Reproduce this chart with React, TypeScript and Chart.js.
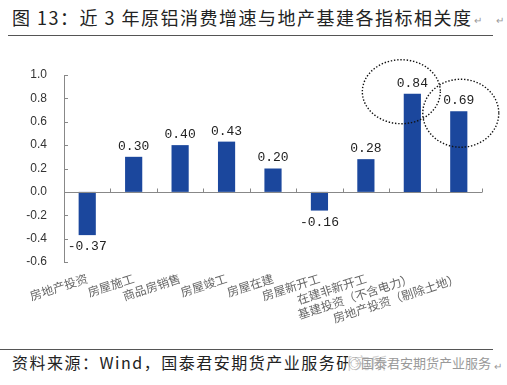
import React, { useEffect, useRef } from "react";
import { Chart, registerables } from "chart.js";

Chart.register(...registerables);

const categories = [
  "房地产投资",
  "房屋施工",
  "商品房销售",
  "房屋竣工",
  "房屋在建",
  "房屋新开工",
  "在建非新开工",
  "基建投资（不含电力）",
  "房地产投资（剔除土地）",
];
const correlations = [-0.37, 0.3, 0.4, 0.43, 0.2, -0.16, 0.28, 0.84, 0.69];
const yTicks = [-0.6, -0.4, -0.2, 0.0, 0.2, 0.4, 0.6, 0.8, 1.0];
const highlighted = [7, 8];

const BAR_COLOR = "#1B479D";

const overlayPlugin = {
  id: "overlay",
  afterDatasetsDraw(chart: any) {
    const { ctx, chartArea, scales } = chart;
    const y = scales.y;
    ctx.save();
    ctx.strokeStyle = "#888";
    ctx.lineWidth = 1;
    ctx.beginPath();
    ctx.moveTo(chartArea.left + 0.5, chartArea.top);
    ctx.lineTo(chartArea.left + 0.5, chartArea.bottom);
    ctx.stroke();
    yTicks.forEach((v) => {
      const py = Math.round(y.getPixelForValue(v)) + 0.5;
      ctx.beginPath();
      ctx.moveTo(chartArea.left, py);
      ctx.lineTo(chartArea.left + 4, py);
      ctx.stroke();
    });
    const zy = Math.round(y.getPixelForValue(0)) + 0.5;
    ctx.beginPath();
    ctx.moveTo(chartArea.left, zy);
    ctx.lineTo(chartArea.right, zy);
    ctx.stroke();
    const n = categories.length;
    const step = (chartArea.right - chartArea.left) / n;
    for (let i = 0; i <= n; i++) {
      const px = Math.round(chartArea.left + i * step) + 0.5;
      ctx.beginPath();
      ctx.moveTo(px, zy);
      ctx.lineTo(px, zy - 4);
      ctx.stroke();
    }
    const meta = chart.getDatasetMeta(0);
    ctx.fillStyle = "#222";
    ctx.font = "13px 'Liberation Mono', monospace";
    ctx.textAlign = "center";
    meta.data.forEach((bar: any, i: number) => {
      const v = correlations[i];
      const t = v.toFixed(2);
      if (v >= 0) {
        ctx.textBaseline = "bottom";
        ctx.fillText(t, bar.x, bar.y - 4);
      } else {
        ctx.textBaseline = "top";
        ctx.fillText(t, bar.x, bar.y + 5);
      }
    });
    ctx.strokeStyle = "#111";
    ctx.lineWidth = 1.4;
    ctx.setLineDash([1.4, 1.8]);
    const offs = [
      { dx: -11, dy: -2, rx: 39, ry: 32 },
      { dx: 2, dy: 2, rx: 38, ry: 34 },
    ];
    highlighted.forEach((idx, k) => {
      const bar: any = meta.data[idx];
      const o = offs[k];
      ctx.beginPath();
      ctx.ellipse(bar.x + o.dx, bar.y + o.dy, o.rx, o.ry, 0, 0, Math.PI * 2);
      ctx.stroke();
    });
    ctx.restore();
  },
};

function BarChart() {
  const ref = useRef<HTMLCanvasElement>(null);
  useEffect(() => {
    if (!ref.current) return;
    const chart = new Chart(ref.current, {
      type: "bar",
      data: {
        labels: categories,
        datasets: [
          {
            data: correlations,
            backgroundColor: BAR_COLOR,
            borderWidth: 0,
            barPercentage: 0.37,
            categoryPercentage: 1,
          },
        ],
      },
      options: {
        responsive: false,
        animation: false,
        layout: { padding: { top: 35, right: 25, left: 0, bottom: 0 } },
        plugins: { legend: { display: false }, tooltip: { enabled: false } },
        scales: {
          x: {
            grid: { display: false, drawTicks: false },
            border: { display: false },
            afterFit: (axis: any) => {
              axis.height = 83;
            },
            ticks: {
              autoSkip: false,
              minRotation: 18,
              maxRotation: 18,
              padding: 9,
              color: "#666",
              font: { family: "'Noto Sans CJK SC'", size: 12 },
            },
          },
          y: {
            min: -0.6,
            max: 1.0,
            grid: { display: false, drawTicks: false },
            border: { display: false },
            afterFit: (axis: any) => {
              axis.width = 64;
            },
            ticks: {
              stepSize: 0.2,
              padding: 17,
              color: "#333",
              font: { family: "'Liberation Sans', Arial", size: 12 },
              callback: (v: any) => Number(v).toFixed(1),
            },
          },
        },
      },
      plugins: [overlayPlugin],
    });
    return () => chart.destroy();
  }, []);
  return <canvas ref={ref} width={507} height={305} style={{ display: "block" }} />;
}

export default function App() {
  return (
    <div
      style={{
        position: "absolute",
        left: 0,
        top: 0,
        width: 507,
        height: 385,
        background: "#fff",
        overflow: "hidden",
        fontFamily: "'Noto Sans CJK SC', sans-serif",
      }}
    >
      <div
        style={{
          position: "absolute",
          left: 12,
          top: 5,
          fontSize: 18,
          letterSpacing: 1.5,
          color: "#222",
          whiteSpace: "nowrap",
          lineHeight: "24px",
        }}
      >
        图 13：近 3 年原铝消费增速与地产基建各指标相关度
      </div>
      <div style={{ position: "absolute", left: 474, top: 12, fontSize: 10, color: "#999" }}>↵</div>
      <div style={{ position: "absolute", left: 496, top: 12, fontSize: 10, color: "#999" }}>↵</div>
      <div style={{ position: "absolute", left: 8, top: 35, width: 485, height: 1, background: "#555" }} />
      <div style={{ position: "absolute", left: 0, top: 40 }}>
        <BarChart />
      </div>
      <div style={{ position: "absolute", left: 0, top: 349, width: 493, height: 1, background: "#555" }} />
      <div
        style={{
          position: "absolute",
          left: 12,
          top: 351,
          fontSize: 16,
          letterSpacing: 1.5,
          color: "#222",
          whiteSpace: "nowrap",
          lineHeight: "22px",
        }}
      >
        资料来源：Wind，国泰君安期货产业服务研究所
      </div>
      <div
        style={{
          position: "absolute",
          left: 348,
          top: 353,
          width: 145,
          height: 20,
          background: "rgba(255,255,255,0.8)",
          fontSize: 13,
          color: "#999",
          whiteSpace: "nowrap",
          lineHeight: "20px",
        }}
      >
        ◎国泰君安期货产业服务
      </div>
      <div style={{ position: "absolute", left: 494, top: 358, fontSize: 10, color: "#999" }}>↵</div>
    </div>
  );
}
